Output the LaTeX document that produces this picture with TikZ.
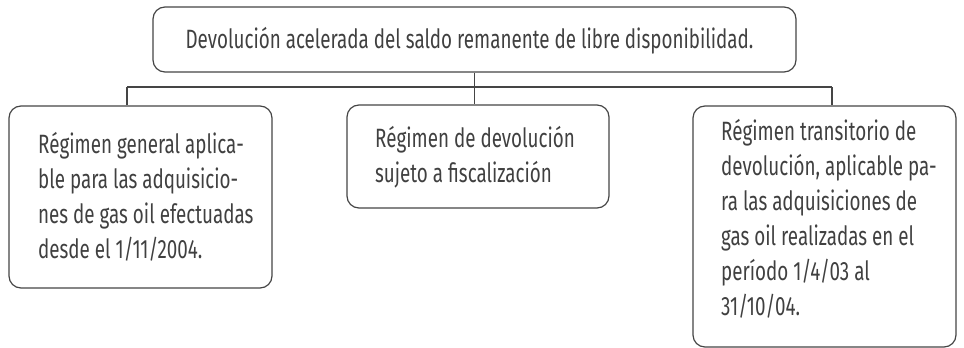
\documentclass[tikz,border=0pt]{standalone}
\usepackage{fontspec}
\setmainfont[FakeStretch=0.71]{Fira Sans}
\definecolor{linegray}{HTML}{454545}
\definecolor{textgray}{HTML}{404040}
\tikzset{
  box/.style={draw=linegray, line width=1.2pt, rounded corners=12pt, inner sep=0pt, minimum width=263pt},
  txt/.style={anchor=base west, inner sep=0pt, align=left, text=textgray, font=\fontsize{26.5}{35}\selectfont},
  conn/.style={draw=linegray, line width=1.2pt}
}
\begin{document}
\begin{tikzpicture}[x=1pt,y=-1pt]
\useasboundingbox (0,0) rectangle (964,348);
% boxes
\node[box, minimum width=643pt, minimum height=65pt] (top) at (474.5,39.5) {};
\node[box, minimum height=182pt] (left) at (140.5,197) {};
\node[box, minimum width=262pt, minimum height=103pt] (mid) at (478,156.5) {};
\node[box, minimum height=241pt] (right) at (824.5,226.5) {};
% texts (base = baseline of last line)
\node[txt, anchor=base] (toptext) at (469.5,48) {Devolución acelerada del saldo remanente de libre disponibilidad.};
\node[txt] (lefttext) at (38,258) {Régimen general aplica-\\ble para las adquisicio-\\nes de gas oil efectuadas\\desde el 1/11/2004.};
\node[txt] (midtext) at (375,182) {Régimen de devolución\\sujeto a fiscalización};
\node[txt] (righttext) at (721,315) {Régimen transitorio de\\devolución, aplicable pa-\\ra las adquisiciones de\\gas oil realizadas en el\\período 1/4/03 al\\31/10/04.};
% connectors
\coordinate (hl) at (127,87);
\coordinate (hr) at (832,87);
\draw[conn] (hl) -- (hr);
\draw[conn] (top.south) -- (top.south |- mid.north);
\draw[conn] (hl) -- (hl |- left.north);
\draw[conn] (hr) -- (hr |- right.north);
\end{tikzpicture}
\end{document}
